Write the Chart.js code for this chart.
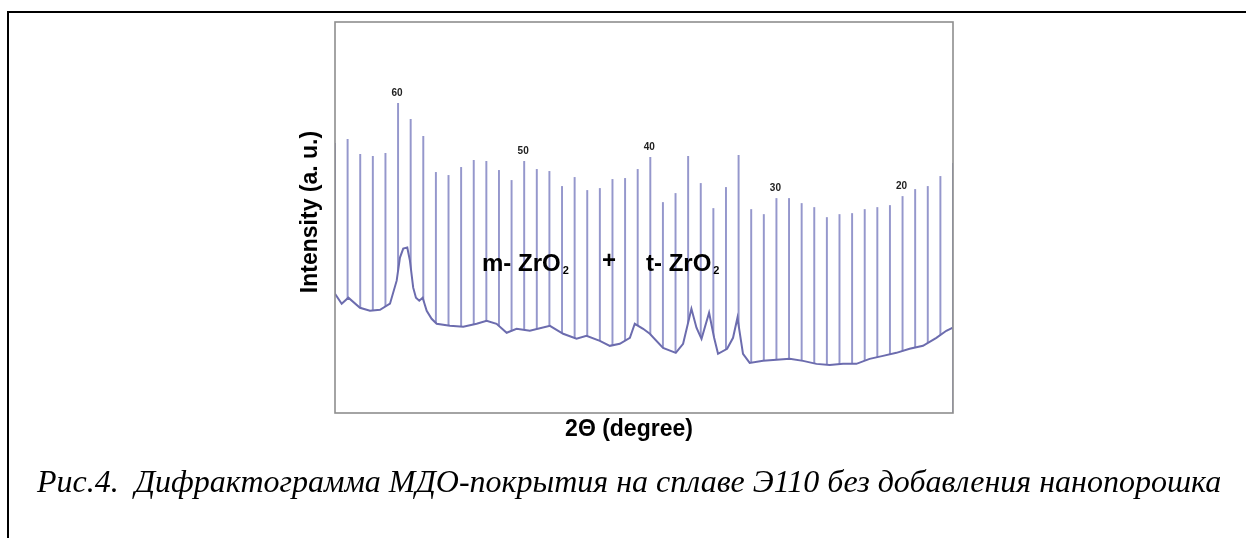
<!DOCTYPE html>
<html>
<head>
<meta charset="utf-8">
<script src="https://cdn.jsdelivr.net/npm/chart.js@4.4.1/dist/chart.umd.min.js"></script>
<style>
  html, body { margin: 0; padding: 0; background: #fff; overflow: hidden; }
  #frame { position: absolute; left: 7px; top: 11px; width: 1400px; height: 700px;
           border-top: 2px solid #000; border-left: 2px solid #000; }
  #xrd { position: absolute; left: 0; top: 0; }
</style>
</head>
<body>
<div id="frame"></div>
<canvas id="xrd" width="1246" height="538"></canvas>
<script>
// 2-theta positions of the sharp lines (one per degree, axis runs 65 -> 16)
const spikeDeg = [65, 64, 63, 62, 61, 60, 59, 58, 57, 56, 55, 54, 53, 52, 51, 50, 49, 48, 47, 46,
                  45, 44, 43, 42, 41, 40, 39, 38, 37, 36, 35, 34, 33, 32, 31, 30, 29, 28, 27, 26,
                  25, 24, 23, 22, 21, 20, 19, 18, 17, 16];
const spikeTop = [269, 273, 258, 256, 259, 309, 293, 276, 240, 237, 245, 252, 251, 242, 232, 251, 243, 241, 226, 235,
                  222, 224, 233, 234, 243, 255, 210, 219, 256, 229, 204, 225, 257, 203, 198, 214, 214, 209, 205, 195,
                  198, 199, 203, 205, 207, 216, 223, 226, 236, 249];

// background trace of the pattern
const baseDeg = [65.00, 64.47, 63.94, 63.02, 62.23, 61.43, 60.64, 60.11, 59.85, 59.59, 59.27, 59.06, 58.80, 58.58,
                 58.32, 58.05, 57.73, 57.34, 56.94, 55.89, 54.83, 53.77, 52.98, 52.19, 51.39, 50.60, 49.55, 47.96,
                 46.91, 45.85, 45.06, 44.00, 43.21, 42.42, 41.62, 41.23, 40.57, 40.04, 38.99, 37.98, 37.40, 36.74,
                 36.34, 35.94, 35.34, 34.94, 34.63, 33.91, 33.44, 33.09, 32.65, 32.12, 31.06, 30.00, 28.95, 27.89,
                 26.83, 25.78, 24.72, 23.66, 22.61, 21.55, 20.49, 19.44, 18.38, 17.32, 16.53, 16.05];
const baseInt = [119, 109, 115, 105, 102, 103, 109, 132, 155, 164, 165, 152, 125, 115,
                 112, 115, 102, 94, 89, 87, 86, 89, 92, 89, 80, 84, 82, 87,
                 79, 74, 77, 72, 67, 69, 75, 89, 84, 79, 65, 60, 69, 104,
                 85, 74, 100, 75, 59, 64, 75, 95, 59, 50, 52, 53, 54, 52,
                 49, 48, 49, 49, 54, 57, 60, 64, 67, 75, 82, 85];

// degree labels written above some lines
const tickDeg = [60, 50, 40, 30, 20];

const textPlugin = {
    id: 'texts',
    afterDraw(chart) {
        const ctx = chart.ctx;
        const a = chart.chartArea;
        const xs = chart.scales.x, ys = chart.scales.y;
        ctx.save();

        // plot box
        ctx.strokeStyle = '#8e8e8e';
        ctx.lineWidth = 1.6;
        ctx.strokeRect(a.left, a.top, a.right - a.left, a.bottom - a.top);

        ctx.fillStyle = '#222';
        ctx.textAlign = 'center';
        ctx.textBaseline = 'middle';
        ctx.font = 'bold 10px "Liberation Sans Narrow", "Liberation Sans", Arial';
        tickDeg.forEach(d => {
            const top = spikeTop[spikeDeg.indexOf(d)];
            ctx.fillText(String(d), xs.getPixelForValue(d) - 1, ys.getPixelForValue(top) - 10);
        });

        // phase labels
        ctx.fillStyle = '#000';
        ctx.textAlign = 'left';
        ctx.textBaseline = 'alphabetic';
        const big = 'bold 24px "Liberation Sans", Arial';
        const small = 'bold 11px "Liberation Sans", Arial';
        const y0 = 271;
        ctx.font = big;
        ctx.fillText('m- ZrO', 482, y0);
        let w = ctx.measureText('m- ZrO').width;
        ctx.font = small;
        ctx.fillText('2', 482 + w + 2, y0 + 3);
        ctx.font = big;
        ctx.textAlign = 'center';
        ctx.fillText('+', 609, y0 - 3);
        ctx.textAlign = 'left';
        ctx.fillText('t- ZrO', 646, y0);
        w = ctx.measureText('t- ZrO').width;
        ctx.font = small;
        ctx.fillText('2', 646 + w + 2, y0 + 3);

        // axis titles
        ctx.font = 'bold 23px "Liberation Sans", Arial';
        ctx.textAlign = 'center';
        ctx.textBaseline = 'middle';
        ctx.fillText('2\u0398 (degree)', 629, 430);
        ctx.save();
        ctx.translate(311, 212);
        ctx.rotate(-Math.PI / 2);
        ctx.fillText('Intensity (a. u.)', 0, 0);
        ctx.restore();

        // figure caption
        ctx.font = 'italic 32px "Liberation Serif", "Times New Roman", serif';
        ctx.textAlign = 'left';
        ctx.textBaseline = 'alphabetic';
        ctx.fillText('\u0420\u0438\u0441.4.  \u0414\u0438\u0444\u0440\u0430\u043a\u0442\u043e\u0433\u0440\u0430\u043c\u043c\u0430 \u041c\u0414\u041e-\u043f\u043e\u043a\u0440\u044b\u0442\u0438\u044f \u043d\u0430 \u0441\u043f\u043b\u0430\u0432\u0435 \u042d110 \u0431\u0435\u0437 \u0434\u043e\u0431\u0430\u0432\u043b\u0435\u043d\u0438\u044f \u043d\u0430\u043d\u043e\u043f\u043e\u0440\u043e\u0448\u043a\u0430', 37, 492);
        ctx.restore();
    }
};

const ctx = document.getElementById('xrd').getContext('2d');

const xrdChart = new Chart(ctx, {
    data: {
        datasets: [{
            type: 'bar',
            label: 'lines',
            data: spikeDeg.map((d, i) => ({ x: d, y: spikeTop[i] })),
            backgroundColor: '#9597cc',
            barThickness: 1.3,
            order: 2
        }, {
            type: 'line',
            label: 'background',
            data: baseDeg.map((d, i) => ({ x: d, y: baseInt[i] })),
            borderColor: '#6c6cae',
            borderWidth: 2,
            pointRadius: 0,
            tension: 0,
            fill: 'origin',
            backgroundColor: '#ffffff',  // hides the lower part of the lines
            order: 1
        }]
    },
    options: {
        responsive: false,
        animation: false,
        layout: { padding: { left: 335, top: 22, right: 293, bottom: 125 } },
        plugins: { legend: { display: false }, tooltip: { enabled: false } },
        scales: {
            x: { type: 'linear', reverse: true, min: 16, max: 65, offset: false, display: false },
            y: { type: 'linear', min: 0, max: 390, display: false }
        }
    },
    plugins: [textPlugin]
});
</script>
</body>
</html>
